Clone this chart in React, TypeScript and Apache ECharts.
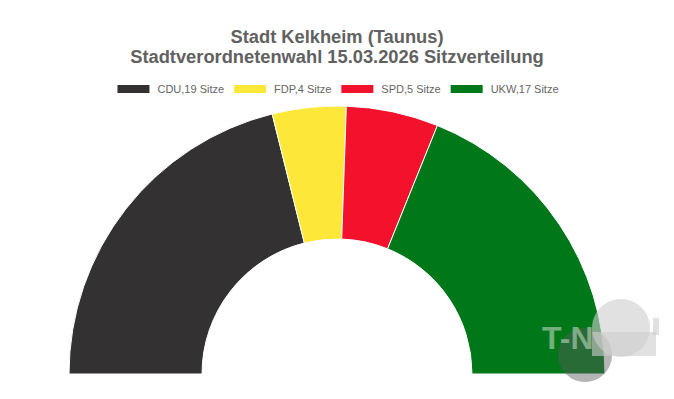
import React, { useEffect, useRef } from "react";
import * as echarts from "echarts";

const titleLines = ["Stadt Kelkheim (Taunus)", "Stadtverordnetenwahl 15.03.2026 Sitzverteilung"];
const parties = ["CDU", "FDP", "SPD", "UKW"];
const seats = [19, 4, 5, 17];
const colors = ["#333132", "#fde83a", "#f4112c", "#00781a"];

export default function App() {
  const ref = useRef<HTMLDivElement>(null);
  useEffect(() => {
    if (!ref.current) return;
    const chart = echarts.init(ref.current, undefined, { renderer: "svg" });
    const names = parties.map((p, i) => `${p},${seats[i]} Sitze`);
    const total = seats.reduce((a, b) => a + b, 0);
    chart.setOption({
      animation: false,
      backgroundColor: "#ffffff",
      title: {
        text: titleLines.join("\n"),
        left: "center",
        top: 21,
        textStyle: {
          fontFamily: "Liberation Sans, Arial, sans-serif",
          fontSize: 18.3,
          fontWeight: "bold",
          color: "#616161",
          lineHeight: 20,
        },
      },
      legend: {
        top: 78,
        left: "center",
        itemWidth: 34,
        itemHeight: 10,
        itemGap: 8,
        icon: "rect",
        data: names,
        textStyle: {
          fontFamily: "Liberation Sans, Arial, sans-serif",
          fontSize: 11,
          color: "#666",
          padding: [0, 0, 0, 2],
        },
      },
      series: [
        {
          type: "pie",
          center: [337, 374],
          radius: [135, 268],
          startAngle: 180,
          label: { show: false },
          labelLine: { show: false },
          silent: true,
          itemStyle: { borderColor: "#fff", borderWidth: 1 },
          data: [
            ...names.map((n, i) => ({ name: n, value: seats[i], itemStyle: { color: colors[i] } })),
            { name: "__rest", value: total, itemStyle: { color: "rgba(0,0,0,0)", borderWidth: 0 } },
          ],
        },
      ],
      graphic: [
        {
          type: "circle",
          z: 100,
          silent: true,
          shape: { cx: 585, cy: 355, r: 27 },
          style: { fill: "rgba(90,90,90,0.45)" },
        },
        {
          type: "circle",
          z: 100,
          silent: true,
          shape: { cx: 621, cy: 328, r: 29 },
          style: { fill: "rgba(205,205,205,0.6)" },
        },
        {
          type: "rect",
          z: 100,
          silent: true,
          shape: { x: 592, y: 332, width: 64, height: 24 },
          style: { fill: "rgba(205,205,205,0.6)" },
        },
        {
          type: "rect",
          z: 100,
          silent: true,
          shape: { x: 653, y: 318, width: 6, height: 17 },
          style: { fill: "rgba(205,205,205,0.6)" },
        },
        {
          type: "text",
          z: 101,
          silent: true,
          x: 542,
          y: 322,
          style: {
            text: "T-N",
            fontFamily: "Liberation Sans, Arial, sans-serif",
            fontSize: 32,
            fontWeight: "bold",
            fill: "rgba(170,200,170,0.7)",
          },
        },
      ],
    });
    return () => chart.dispose();
  }, []);
  return <div ref={ref} style={{ width: 674, height: 399, position: "absolute", left: 0, top: 0 }} />;
}
